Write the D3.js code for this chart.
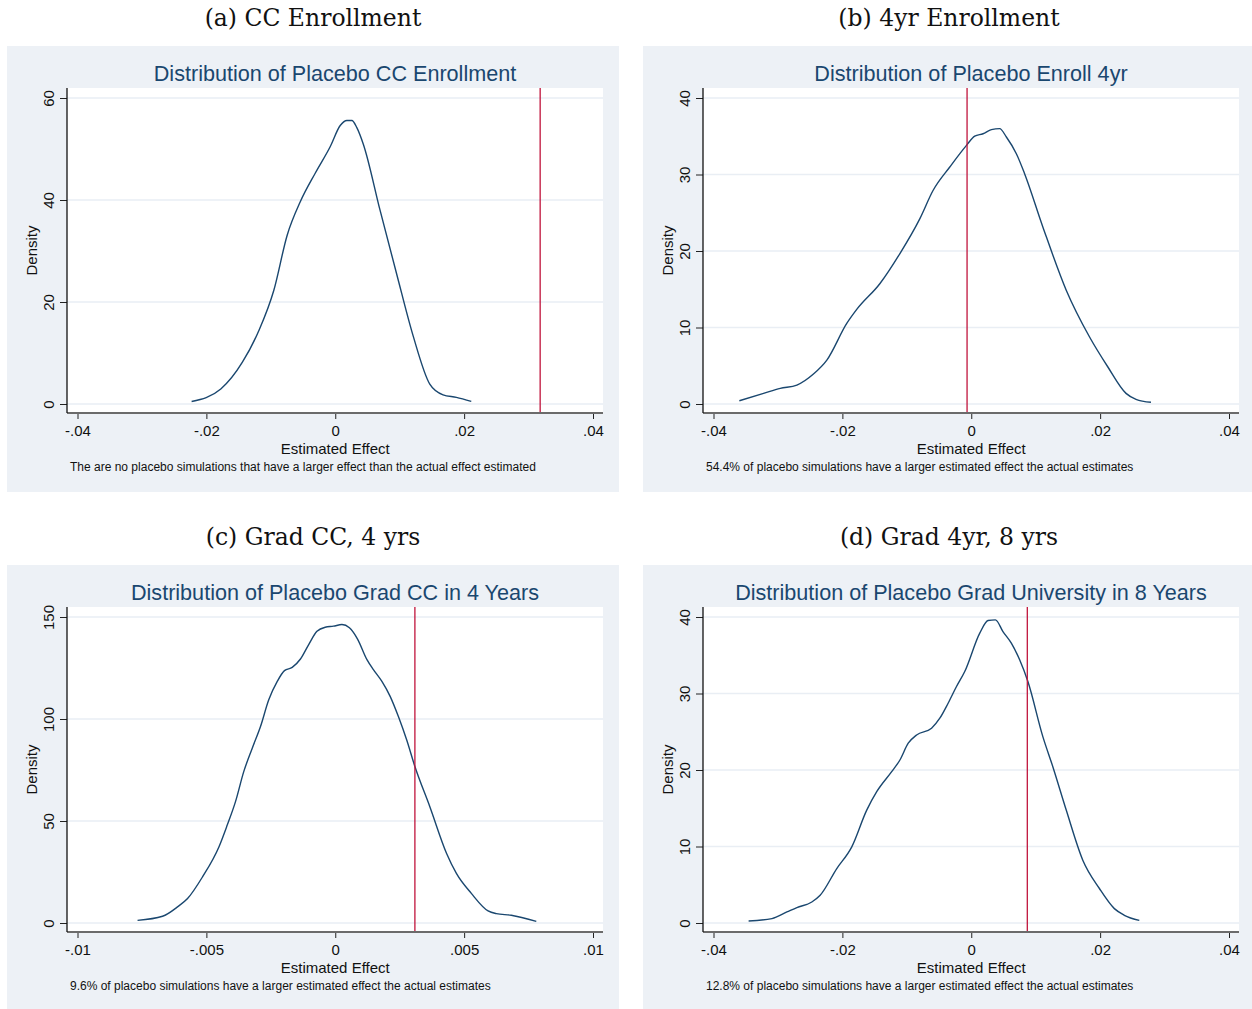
<!DOCTYPE html>
<html>
<head>
<meta charset="utf-8">
<script src="https://cdn.jsdelivr.net/npm/d3@7"></script>
<style>
  body { margin: 0; background: #fff; }
  text { font-family: "Liberation Sans", Arial, sans-serif; }
  .caption { font-family: "DejaVu Serif", "Liberation Serif", serif; }
</style>
</head>
<body>
<svg id="chart" width="1252" height="1009"></svg>
<script>
// Panel (a) CC Enrollment
var ccEffect = [-0.02229, -0.01776, -0.01441, -0.01185, -0.00953, -0.00746, -0.00541, -0.00309, -0.00077, 0.00077, 0.00181, 0.00258, 0.00335, 0.00437, 0.00695, 0.00953, 0.01210, 0.01467, 0.01673, 0.01880, 0.02111]
var ccDensity = [0.5, 2.95, 8.2, 14.4, 22.3, 33.1, 39.7, 45.3, 50.5, 54.6, 55.6, 55.6, 54.2, 50.9, 38.0, 25.5, 13.3, 3.9, 1.8, 1.3, 0.5]

// Panel (b) 4yr Enrollment
var fourEffect = [-0.03599, -0.03223, -0.02964, -0.02706, -0.02449, -0.02241, -0.01932, -0.01777, -0.01416, -0.01107, -0.00797, -0.00591, -0.00333, -0.00074, 0.00054, 0.00183, 0.00313, 0.00441, 0.00545, 0.00700, 0.00828, 0.01111, 0.01474, 0.01834, 0.02118, 0.02402, 0.02557, 0.02789]
var fourDensity = [0.43, 1.39, 2.05, 2.48, 3.92, 5.74, 10.53, 12.36, 15.75, 19.67, 24.24, 27.94, 30.98, 33.81, 35.02, 35.33, 35.86, 36.0, 34.9, 32.72, 30.11, 23.15, 14.88, 8.79, 4.87, 1.39, 0.61, 0.22]

// Panel (c) Grad CC, 4 yrs
var gradCcEffect = [-0.00767, -0.00670, -0.00612, -0.00573, -0.00515, -0.00451, -0.00419, -0.00387, -0.00355, -0.00322, -0.00290, -0.00258, -0.00225, -0.00197, -0.00167, -0.00135, -0.00103, -0.00071, -0.00039, -0.00007, 0.00026, 0.00055, 0.00086, 0.00123, 0.00148, 0.00181, 0.00213, 0.00245, 0.00277, 0.00309, 0.00367, 0.00432, 0.00470, 0.00528, 0.00593, 0.00625, 0.00683, 0.00780]
var gradCcDensity = [1.3, 3.3, 7.9, 12.0, 22.6, 37.4, 48.0, 59.5, 74.2, 85.7, 96.3, 109.4, 118.4, 123.7, 125.3, 129.4, 136.5, 143.0, 145.0, 145.5, 146.3, 144.7, 139.3, 129.1, 124.2, 118.4, 111.1, 101.2, 89.8, 76.7, 57.0, 34.1, 24.3, 14.5, 5.9, 4.6, 3.8, 0.8]

// Panel (d) Grad 4yr, 8 yrs
var gradUnivEffect = [-0.03455, -0.03093, -0.02861, -0.02706, -0.02474, -0.02345, -0.02087, -0.01854, -0.01622, -0.01467, -0.01235, -0.01107, -0.00978, -0.00848, -0.00616, -0.00488, -0.00359, -0.00229, -0.00101, 0.00132, 0.00260, 0.00375, 0.00492, 0.00622, 0.00751, 0.00879, 0.01111, 0.01266, 0.01474, 0.01731, 0.01989, 0.02221, 0.02376, 0.02608]
var gradUnivDensity = [0.26, 0.58, 1.44, 2.02, 2.75, 3.63, 7.12, 9.96, 14.76, 17.16, 19.78, 21.31, 23.50, 24.58, 25.46, 26.77, 28.73, 30.91, 32.87, 37.89, 39.54, 39.63, 38.10, 36.58, 34.40, 31.56, 24.36, 20.43, 14.76, 8.21, 4.51, 1.88, 1.01, 0.35]

// Actual estimates (red lines)
var actualEstimates = [0.0318, -0.00065, 0.00309, 0.0087]

// Ticks
var wideXTicks = [-0.04, -0.02, 0, 0.02, 0.04]
var wideXLabels = ['-.04', '-.02', '0', '.02', '.04']
var narrowXTicks = [-0.01, -0.005, 0, 0.005, 0.01]
var narrowXLabels = ['-.01', '-.005', '0', '.005', '.01']
var ccYTicks = [0, 20, 40, 60]
var fourYTicks = [0, 10, 20, 30, 40]
var gradCcYTicks = [0, 50, 100, 150]

var captions = ['(a) CC Enrollment', '(b) 4yr Enrollment', '(c) Grad CC, 4 yrs', '(d) Grad 4yr, 8 yrs']
var titles = ['Distribution of Placebo CC Enrollment', 'Distribution of Placebo Enroll 4yr',
  'Distribution of Placebo Grad CC in 4 Years', 'Distribution of Placebo Grad University in 8 Years']
var notes = ['The are no placebo simulations that have a larger effect than the actual effect estimated',
  '54.4% of placebo simulations have a larger estimated effect the actual estimates',
  '9.6% of placebo simulations have a larger estimated effect the actual estimates',
  '12.8% of placebo simulations have a larger estimated effect the actual estimates']

var panels = [
  { x: ccEffect, y: ccDensity, xTicks: wideXTicks, xLabels: wideXLabels, xDomain: [-0.04, 0.04], yTicks: ccYTicks },
  { x: fourEffect, y: fourDensity, xTicks: wideXTicks, xLabels: wideXLabels, xDomain: [-0.04, 0.04], yTicks: fourYTicks },
  { x: gradCcEffect, y: gradCcDensity, xTicks: narrowXTicks, xLabels: narrowXLabels, xDomain: [-0.01, 0.01], yTicks: gradCcYTicks },
  { x: gradUnivEffect, y: gradUnivDensity, xTicks: wideXTicks, xLabels: wideXLabels, xDomain: [-0.04, 0.04], yTicks: fourYTicks }
]

var conf = {
  panelW: 612,
  panelH: 446,
  origins: [[7, 46], [643, 46], [7, 565], [643, 565]],
  plotLeft: 60,
  plotRight: 596,
  plotTop: 42,
  plotBottom: 367,
  labelSize: 15,
  navy: '#1a476f',
  red: '#c0143c',
  bg: '#edf1f6',
  grid: '#e9eef4'
}

var svg = d3.select('#chart')

panels.forEach(function (p, i) {
  var o = conf.origins[i]
  var g = svg.append('g').attr('transform', 'translate(' + o[0] + ',' + o[1] + ')')

  // Outer caption
  g.append('text')
    .attr('class', 'caption')
    .attr('x', conf.panelW / 2)
    .attr('y', -20)
    .attr('text-anchor', 'middle')
    .attr('font-size', 23.5)
    .attr('fill', '#111')
    .text(captions[i])

  // Graph region
  g.append('rect')
    .attr('width', conf.panelW)
    .attr('height', conf.panelH)
    .attr('fill', conf.bg)

  // Plot region
  g.append('rect')
    .attr('x', conf.plotLeft)
    .attr('y', conf.plotTop)
    .attr('width', conf.plotRight - conf.plotLeft)
    .attr('height', conf.plotBottom - conf.plotTop)
    .attr('fill', '#fff')

  var x = d3.scaleLinear().domain(p.xDomain).range([70.5, 586])
  var yMax = p.yTicks[p.yTicks.length - 1]
  var y = d3.scaleLinear().domain([0, yMax]).range([358, 52])

  // Gridlines
  g.selectAll('line.grid')
    .data(p.yTicks)
    .enter()
      .append('line')
      .attr('class', 'grid')
      .attr('x1', conf.plotLeft)
      .attr('x2', conf.plotRight)
      .attr('y1', function (d) { return y(d) })
      .attr('y2', function (d) { return y(d) })
      .attr('stroke', conf.grid)
      .attr('stroke-width', 1.5)

  // Density curve
  var pts = p.x.map(function (d, k) { return [d, p.y[k]] })
  var line = d3.line()
    .x(function (d) { return x(d[0]) })
    .y(function (d) { return y(d[1]) })
    .curve(d3.curveMonotoneX)

  g.append('path')
    .datum(pts)
    .attr('d', line)
    .attr('fill', 'none')
    .attr('stroke', conf.navy)
    .attr('stroke-width', 1.4)

  // Actual estimate
  g.append('line')
    .attr('x1', x(actualEstimates[i]))
    .attr('x2', x(actualEstimates[i]))
    .attr('y1', conf.plotTop)
    .attr('y2', conf.plotBottom)
    .attr('stroke', conf.red)
    .attr('stroke-width', 1.3)

  // X axis
  var xAxis = d3.axisBottom(x)
    .tickValues(p.xTicks)
    .tickSize(6)
    .tickFormat(function (d, k) { return p.xLabels[k] })

  var xg = g.append('g')
    .attr('transform', 'translate(0,' + conf.plotBottom + ')')
    .call(xAxis)
  xg.select('.domain').remove()
  xg.append('line')
    .attr('x1', conf.plotLeft)
    .attr('x2', conf.plotRight)
    .attr('stroke', '#6b6b6b')
    .attr('stroke-width', 2)
  xg.selectAll('.tick line').attr('stroke', '#222')
  xg.selectAll('.tick text')
    .attr('font-size', conf.labelSize)
    .attr('fill', '#111')
    .attr('dy', null)
    .attr('y', 23)

  // Y axis
  var yAxis = d3.axisLeft(y)
    .tickValues(p.yTicks)
    .tickSize(7)
    .tickFormat(d3.format('d'))

  var yg = g.append('g')
    .attr('transform', 'translate(' + conf.plotLeft + ',0)')
    .call(yAxis)
  yg.select('.domain').remove()
  yg.append('line')
    .attr('y1', conf.plotTop)
    .attr('y2', conf.plotBottom)
    .attr('stroke', '#111')
    .attr('stroke-width', 1.3)
  yg.selectAll('.tick line').attr('stroke', '#222')
  yg.selectAll('.tick text')
    .attr('font-size', conf.labelSize)
    .attr('fill', '#111')
    .attr('x', null)
    .attr('dy', null)
    .attr('text-anchor', 'middle')
    .attr('transform', 'translate(-13,0) rotate(-90)')

  // Inner title
  g.append('text')
    .attr('x', (conf.plotLeft + conf.plotRight) / 2)
    .attr('y', 35)
    .attr('text-anchor', 'middle')
    .attr('font-size', 21.6)
    .attr('fill', conf.navy)
    .text(titles[i])

  // Axis titles
  g.append('text')
    .attr('transform', 'translate(30,' + ((conf.plotTop + conf.plotBottom) / 2) + ') rotate(-90)')
    .attr('text-anchor', 'middle')
    .attr('font-size', conf.labelSize)
    .attr('fill', '#111')
    .text('Density')

  g.append('text')
    .attr('x', x(0))
    .attr('y', 407.5)
    .attr('text-anchor', 'middle')
    .attr('font-size', conf.labelSize)
    .attr('fill', '#111')
    .text('Estimated Effect')

  // Note
  g.append('text')
    .attr('x', 63)
    .attr('y', 424.5)
    .attr('font-size', 12)
    .attr('fill', '#111')
    .text(notes[i])
})
</script>
</body>
</html>
